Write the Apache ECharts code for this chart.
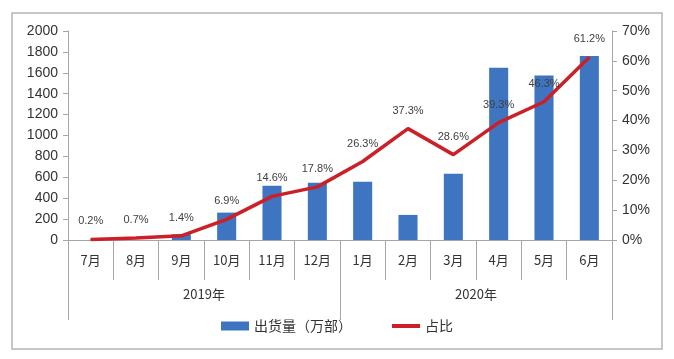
<!DOCTYPE html>
<html><head><meta charset="utf-8">
<script src="https://cdn.jsdelivr.net/npm/echarts@6/dist/echarts.min.js"></script>
<style>html,body{margin:0;padding:0;background:#fff}#c{width:674px;height:359px}</style>
</head><body><div id="c"></div>
<script>
var months = ['7月','8月','9月','10月','11月','12月','1月','2月','3月','4月','5月','6月'];
var years = ['2019年','2020年'];
var shipments = [0, 0, 55, 262, 520, 549, 557, 240, 634, 1649, 1575, 1760];
var share = [0.2, 0.7, 1.4, 6.9, 14.6, 17.8, 26.3, 37.3, 28.6, 39.3, 46.3, 61.2];
var leftTicks = [0, 2000, 200];
var rightTicks = [0, 70, 10];

var font = 'Liberation Sans, "Noto Sans CJK SC", sans-serif';
var cjk = '"Noto Sans CJK SC", sans-serif';
var chart = echarts.init(document.getElementById('c'));
chart.setOption({
  animation: false,
  backgroundColor: '#fff',
  textStyle: {fontFamily: font},
  graphic: [{type: 'rect', shape: {x: 12, y: 13, width: 650, height: 336}, style: {fill: 'none', stroke: '#b5b5b5', lineWidth: 1.5}, silent: true}],
  grid: {left: 68, right: 62, top: 31, bottom: 119},
  legend: {
    bottom: 21, left: 'center', itemGap: 40, itemWidth: 28, itemHeight: 9,
    textStyle: {fontSize: 14, color: '#333', fontFamily: cjk},
    data: [
      {name: '出货量（万部）', icon: 'rect'},
      {name: '占比', icon: 'path://M0,0h28v4h-28z'}
    ]
  },
  xAxis: [{
    type: 'category', data: months, position: 'bottom',
    axisLine: {lineStyle: {color: '#a6a6a6', width: 1}},
    axisTick: {show: true, length: 40, lineStyle: {color: '#a6a6a6'}},
    axisLabel: {margin: 14, fontSize: 13, color: '#333', fontFamily: cjk, interval: 0}
  }, {
    type: 'category', data: years, position: 'bottom',
    axisLine: {show: false},
    axisTick: {show: true, length: 80, lineStyle: {color: '#a6a6a6'}},
    axisLabel: {margin: 48, fontSize: 13, color: '#333', fontFamily: cjk}
  }],
  yAxis: [{
    type: 'value', min: leftTicks[0], max: leftTicks[1], interval: leftTicks[2],
    axisLine: {show: true, lineStyle: {color: '#a6a6a6'}},
    axisTick: {show: true, length: 5, lineStyle: {color: '#a6a6a6'}},
    splitLine: {show: false},
    axisLabel: {fontSize: 14, color: '#333', margin: 10, formatter: function (v) { return String(v); }}
  }, {
    type: 'value', min: rightTicks[0], max: rightTicks[1], interval: rightTicks[2],
    axisLine: {show: true, lineStyle: {color: '#a6a6a6'}},
    axisTick: {show: true, length: 5, lineStyle: {color: '#a6a6a6'}},
    splitLine: {show: false},
    axisLabel: {fontSize: 14, color: '#333', margin: 10, formatter: '{value}%'}
  }],
  series: [{
    name: '出货量（万部）', type: 'bar', data: shipments, barWidth: '42%',
    itemStyle: {color: '#3f74c0'}
  }, {
    name: '占比', type: 'line', yAxisIndex: 1, data: share,
    symbol: 'circle', symbolSize: 1, showSymbol: true,
    lineStyle: {color: '#cc1f28', width: 3.5}, itemStyle: {color: '#cc1f28'},
    label: {show: true, position: 'top', distance: 12, fontSize: 11, color: '#404040', formatter: '{c}%'}
  }]
});
</script></body></html>
